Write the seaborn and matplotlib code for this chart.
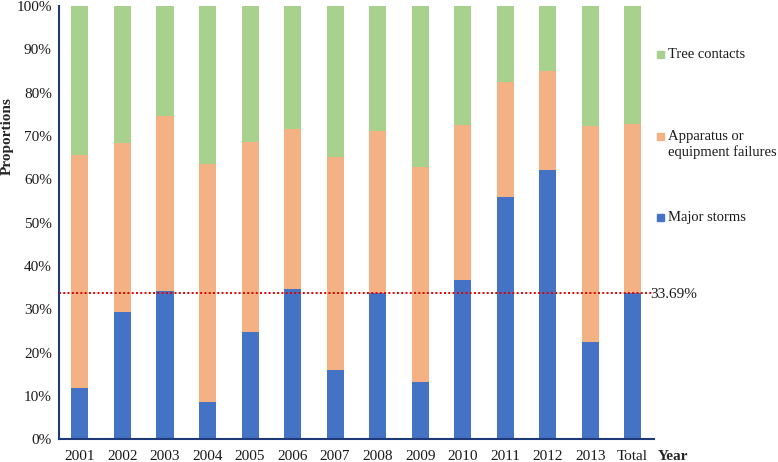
import matplotlib
matplotlib.use("Agg")
import matplotlib.pyplot as plt
import seaborn as sns
import pandas as pd
import numpy as np
from matplotlib.patches import Rectangle

years = ["2001", "2002", "2003", "2004", "2005", "2006", "2007",
         "2008", "2009", "2010", "2011", "2012", "2013", "Total"]
major_storms = [11.8, 29.3, 34.2, 8.7, 24.7, 34.6, 16.1, 33.8, 13.2, 36.8, 56.0, 62.1, 22.4, 33.69]
apparatus = [53.8, 39.1, 40.5, 54.9, 44.0, 37.1, 49.1, 37.4, 49.6, 35.7, 26.5, 22.9, 49.9, 39.0]
tree_contacts = [34.4, 31.6, 25.3, 36.4, 31.3, 28.3, 34.8, 28.8, 37.2, 27.5, 17.5, 15.0, 27.7, 27.31]
series_names = ["Major storms", "Apparatus or\nequipment failures", "Tree contacts"]
avg_line = 33.69

c_blue = "#4472C4"
c_orange = "#F4B183"
c_green = "#A9D18E"

sns.set_style("white")
plt.rcParams["font.family"] = ["Liberation Serif", "DejaVu Serif"]

df = pd.DataFrame({"Year": years, "storms": major_storms,
                   "app": apparatus, "tree": tree_contacts})
df["cum1"] = df["storms"]
df["cum2"] = df["storms"] + df["app"]
df["cum3"] = df["cum2"] + df["tree"]

fig = plt.figure(figsize=(7.78, 4.62), dpi=100)
ax = fig.add_axes([58.7 / 778, 1 - 439.3 / 462, (654 - 58.7) / 778, (439.3 - 6) / 462])

for col, c in [("cum3", c_green), ("cum2", c_orange), ("cum1", c_blue)]:
    sns.barplot(data=df, x="Year", y=col, color=c, width=0.4, ax=ax, saturation=1,
                linewidth=0, edgecolor="none")

ax.axhline(avg_line, color="#E00000", linestyle=(0, (1, 1.2)), lw=1.4, zorder=5)

ax.set_xlim(-0.5, len(years) - 0.5)
ax.set_ylim(0, 100)
ax.set_yticks(np.arange(0, 101, 10))
ax.set_yticklabels([f"{v}%" for v in range(0, 101, 10)])
ax.tick_params(axis="both", length=0, labelsize=11, colors="#1a1a1a")
ax.tick_params(axis="x", pad=8)
ax.tick_params(axis="y", pad=5)
ax.set_xlabel("")
ax.set_ylabel("")
for s in ["top", "right"]:
    ax.spines[s].set_visible(False)
for s in ["left", "bottom"]:
    ax.spines[s].set_color("#1F3A78")
    ax.spines[s].set_linewidth(1.5)

fig.text(7 / 778, 1 - 136 / 462, "Proportions", rotation=90, ha="center", va="center",
         fontsize=11, fontweight="bold")
fig.text(673 / 778, 1 - 456 / 462, "Year", ha="center", va="center",
         fontsize=11, fontweight="bold")
fig.text(650 / 778, 1 - 295 / 462, f"{avg_line:.2f}%", ha="left", va="center", fontsize=11,
         color="#1a1a1a")

legend_items = [(c_green, "Tree contacts", 54, 54),
                (c_orange, "Apparatus or\nequipment failures", 136, 144.5),
                (c_blue, "Major storms", 217, 217)]
for col, lab, ysq, ytxt in legend_items:
    fig.add_artist(Rectangle((657 / 778, 1 - (ysq + 3.5) / 462), 7 / 778, 7 / 462,
                             transform=fig.transFigure, color=col))
    fig.text(668 / 778, 1 - ytxt / 462, lab, ha="left", va="center",
             fontsize=10.5, color="#1a1a1a", linespacing=1.2)

fig.savefig("out.png", dpi=100)
